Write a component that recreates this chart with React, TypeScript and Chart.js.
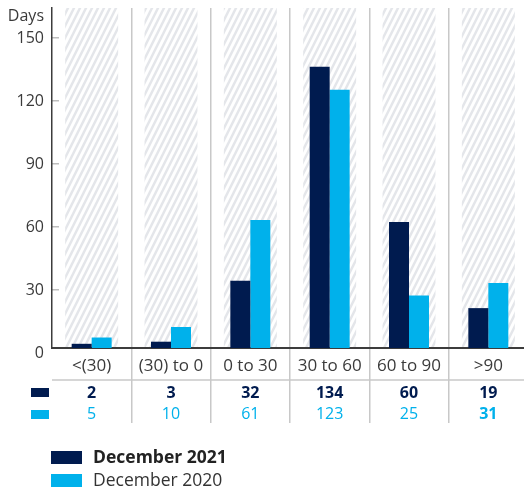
import { useEffect, useRef } from "react";
import { Chart, registerables } from "chart.js";

Chart.register(...registerables);

const categories = ["<(30)", "(30) to 0", "0 to 30", "30 to 60", "60 to 90", ">90"];
const dec2021 = [2, 3, 32, 134, 60, 19];
const dec2020 = [5, 10, 61, 123, 25, 31];
const yTickValues = [0, 30, 60, 90, 120, 150];
const seriesLabels = ["December 2021", "December 2020"];
const yAxisTitle = "Days";
const emphasized2020Index = 5;

const NAVY = "#001b4f";
const CYAN = "#00b1eb";
const TEXT = "#3a3a3a";
const AXIS = "#3c3c3c";
const SEP = "#c8c8c8";
const FONT = '"Open Sans", sans-serif';
const Y_MAX = 162;
const TICK_SHIFT = 2.4; // the reference prints its tick labels slightly below their values
const HATCH_FRACTION = 0.668;
const BAR_FRACTION = 0.504;
const CANVAS_W = 528;
const CANVAS_H = 488;

function makeHatch(): CanvasPattern | string {
  const w = 6;
  const h = 12;
  const c = document.createElement("canvas");
  c.width = w;
  c.height = h;
  const g = c.getContext("2d");
  if (!g) return "#eee";
  g.fillStyle = "#ffffff";
  g.fillRect(0, 0, w, h);
  g.strokeStyle = "#e4e6ea";
  g.lineWidth = 2.5;
  for (const dx of [-w, 0, w]) {
    g.beginPath();
    g.moveTo(dx - w, 2 * h);
    g.lineTo(dx + 2 * w, -h);
    g.stroke();
  }
  const p = g.createPattern(c, "repeat");
  return p || "#eee";
}

export default function App() {
  const ref = useRef<HTMLCanvasElement>(null);

  useEffect(() => {
    const canvas = ref.current;
    if (!canvas) return;
    const hatch = makeHatch();

    const tablePlugin = {
      id: "tablePlugin",
      beforeDraw(chart: any) {
        const { ctx, chartArea } = chart;
        const x = chart.scales.x;
        const catW = x.width / categories.length;
        const hw = catW * HATCH_FRACTION;
        ctx.save();
        ctx.fillStyle = hatch;
        categories.forEach((_c, i) => {
          const cx = x.getPixelForValue(i);
          ctx.fillRect(cx - hw / 2, chartArea.top, hw, chartArea.bottom - chartArea.top);
        });
        ctx.restore();
      },
      afterDraw(chart: any) {
        const { ctx, chartArea } = chart;
        const x = chart.scales.x;
        ctx.save();
        ctx.textBaseline = "middle";

        ctx.font = `16px ${FONT}`;
        ctx.fillStyle = TEXT;
        ctx.textAlign = "right";
        ctx.fillText(yAxisTitle, chartArea.left - 8, 16);

        ctx.font = `17px ${FONT}`;
        ctx.textAlign = "center";
        categories.forEach((c, i) => ctx.fillText(c, x.getPixelForValue(i), 366));

        ctx.strokeStyle = SEP;
        ctx.lineWidth = 1.5;
        ctx.beginPath();
        ctx.moveTo(chartArea.left, 380);
        ctx.lineTo(chartArea.right, 380);
        ctx.stroke();

        ctx.font = `bold 16px ${FONT}`;
        ctx.fillStyle = NAVY;
        dec2021.forEach((v, i) => ctx.fillText(String(v), x.getPixelForValue(i), 393));

        ctx.fillStyle = CYAN;
        dec2020.forEach((v, i) => {
          ctx.font = i === emphasized2020Index ? `bold 16px ${FONT}` : `16px ${FONT}`;
          ctx.fillText(String(v), x.getPixelForValue(i), 414);
        });

        ctx.fillStyle = NAVY;
        ctx.fillRect(31, 388, 18, 9);
        ctx.fillStyle = CYAN;
        ctx.fillRect(31, 410, 18, 9);

        ctx.fillStyle = NAVY;
        ctx.fillRect(51, 451, 31, 13);
        ctx.fillStyle = CYAN;
        ctx.fillRect(51, 474, 31, 13);

        ctx.textAlign = "left";
        ctx.fillStyle = "#222222";
        ctx.font = `bold 17.5px ${FONT}`;
        ctx.fillText(seriesLabels[0], 93, 458);
        ctx.fillStyle = "#333333";
        ctx.font = `17.5px ${FONT}`;
        ctx.fillText(seriesLabels[1], 93, 481);
        ctx.restore();
      },
    };

    const transparent = "rgba(0,0,0,0)";
    const chart = new Chart(canvas, {
      type: "bar",
      data: {
        labels: categories,
        datasets: [
          {
            label: seriesLabels[0],
            data: dec2021,
            backgroundColor: NAVY,
            categoryPercentage: BAR_FRACTION,
            barPercentage: 1,
            borderWidth: 0,
          },
          {
            label: seriesLabels[1],
            data: dec2020,
            backgroundColor: CYAN,
            categoryPercentage: BAR_FRACTION,
            barPercentage: 1,
            borderWidth: 0,
          },
        ],
      },
      options: {
        responsive: false,
        animation: false,
        events: [],
        layout: { padding: { top: 8, left: 0, right: 0, bottom: 0 } },
        plugins: { legend: { display: false }, tooltip: { enabled: false } },
        scales: {
          x: {
            grid: {
              offset: true,
              color: (c: any) => (c.index === 0 ? transparent : SEP),
              lineWidth: 1.5,
              drawTicks: true,
              tickLength: 75,
            },
            border: { display: true, color: AXIS, width: 2 },
            ticks: { display: false },
            afterFit: (s: any) => {
              s.height = CANVAS_H - 348;
              s.paddingLeft = 0;
              s.paddingRight = 0;
            },
          },
          y: {
            min: 0,
            max: Y_MAX,
            afterBuildTicks: (s: any) => {
              s.ticks = yTickValues.map((v) => ({ value: v - TICK_SHIFT }));
            },
            ticks: {
              autoSkip: false,
              callback: (_v: any, i: number) => String(yTickValues[i]),
              padding: 15,
              font: { family: FONT, size: 16 },
              color: TEXT,
            },
            grid: {
              drawOnChartArea: false,
              drawTicks: true,
              tickLength: -7,
              lineWidth: 1.5,
              color: (c: any) => (c.index === 0 ? transparent : "#bdbdbd"),
            },
            border: { display: true, color: AXIS, width: 1.5 },
            afterFit: (s: any) => {
              s.width = 52;
              s.paddingTop = 0;
              s.paddingBottom = 0;
            },
          },
        },
      } as any,
      plugins: [tablePlugin],
    });
    return () => chart.destroy();
  }, []);

  return (
    <div
      style={{
        position: "fixed",
        left: 0,
        top: 0,
        width: 524,
        height: 488,
        overflow: "hidden",
        background: "#ffffff",
      }}
    >
      <canvas ref={ref} width={CANVAS_W} height={CANVAS_H} style={{ display: "block" }} />
    </div>
  );
}
